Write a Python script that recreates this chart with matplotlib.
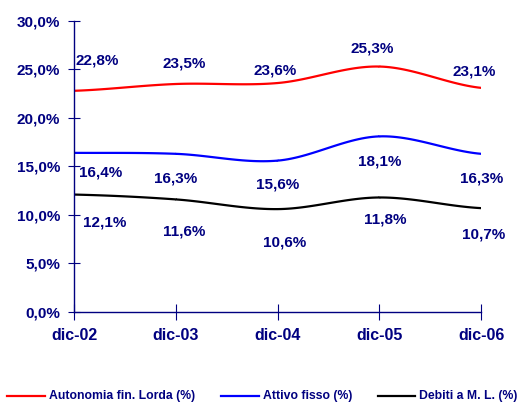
import numpy as np
import matplotlib.pyplot as plt
from matplotlib.lines import Line2D

plt.rcParams['font.family'] = ['Liberation Sans', 'DejaVu Sans']
plt.rcParams['font.weight'] = 'bold'

periodi = ["dic-02", "dic-03", "dic-04", "dic-05", "dic-06"]
autonomia = [22.8, 23.5, 23.6, 25.3, 23.1]
attivo = [16.4, 16.3, 15.6, 18.1, 16.3]
debiti = [12.1, 11.6, 10.6, 11.8, 10.7]

serie = [
    ("Autonomia fin. Lorda (%)", autonomia, "#ff0000"),
    ("Attivo fisso (%)", attivo, "#0000ff"),
    ("Debiti a M. L. (%)", debiti, "#000000"),
]

# label offsets in points (dx, dy) for each series
offsets = [
    [(17, 22), (6, 15), (-2, 9), (-5, 13), (-5, 12)],
    [(19, -14), (0, -18), (0, -17), (0, -18), (0, -18)],
    [(22, -20), (6, -23), (5, -24), (4, -16), (2, -19)],
]
# legend entries: line start, line end, text start (figure pixels)
legend_x = [(7, 45, 49), (221, 259, 263), (378, 415, 419)]

navy = "#000080"
W, H = 518, 403


def smooth(x, y, n=30):
    # catmull-rom curve through the points, like a spreadsheet "smoothed line"
    x = np.asarray(x, float)
    y = np.asarray(y, float)
    px = np.concatenate([[2 * x[0] - x[1]], x, [2 * x[-1] - x[-2]]])
    py = np.concatenate([[y[0]], y, [y[-1]]])
    xs, ys = [], []
    t = np.linspace(0, 1, n)
    for i in range(1, len(px) - 2):
        p0, p1, p2, p3 = py[i - 1], py[i], py[i + 1], py[i + 2]
        ys.append(0.5 * (2 * p1 + (-p0 + p2) * t + (2 * p0 - 5 * p1 + 4 * p2 - p3) * t ** 2
                         + (-p0 + 3 * p1 - 3 * p2 + p3) * t ** 3))
        xs.append(px[i] + (px[i + 1] - px[i]) * t)
    return np.concatenate(xs), np.concatenate(ys)


fig = plt.figure(figsize=(W / 100, H / 100), dpi=100)
ax = fig.add_axes([0.143, 0.226, 0.786, 0.722])

x = np.arange(len(periodi))
for (nome, vals, col), offs in zip(serie, offsets):
    sx, sy = smooth(x, vals)
    ax.plot(sx, sy, color=col, lw=1.6, solid_capstyle='butt')
    for xi, v, (dx, dy) in zip(x, vals, offs):
        ax.annotate(f"{v:.1f}%".replace(".", ","), (xi, v), xytext=(dx, dy),
                    textcoords="offset points", ha="center", va="center",
                    fontsize=11, fontweight="bold", color=navy)

ax.set_xlim(0, len(periodi) - 1)
ax.set_ylim(0, 30)
ax.set_xticks(x)
ax.set_xticklabels(periodi)
ax.set_yticks(np.arange(0, 31, 5))
ax.set_yticklabels([f"{v:.1f}%".replace(".", ",") for v in np.arange(0, 31, 5)])

for s in ["top", "right"]:
    ax.spines[s].set_visible(False)
for s in ["left", "bottom"]:
    ax.spines[s].set_color(navy)
    ax.spines[s].set_linewidth(1.0)
ax.tick_params(axis="y", direction="inout", length=8, color=navy, labelcolor=navy,
               labelsize=11, pad=6)
ax.tick_params(axis="x", direction="inout", length=11, color=navy, labelcolor=navy,
               labelsize=11.5, pad=6)
for lab in ax.get_xticklabels() + ax.get_yticklabels():
    lab.set_fontweight("bold")

# legend row at the bottom
ly = 1 - 396 / H
for (nome, _, col), (x0, x1, xt) in zip(serie, legend_x):
    fig.add_artist(Line2D([x0 / W, x1 / W], [ly, ly], color=col, lw=1.6,
                          transform=fig.transFigure))
    fig.text(xt / W, ly, nome, ha="left", va="center", fontsize=8.8,
             fontweight="bold", color=navy)

fig.savefig("out.png", dpi=100)
